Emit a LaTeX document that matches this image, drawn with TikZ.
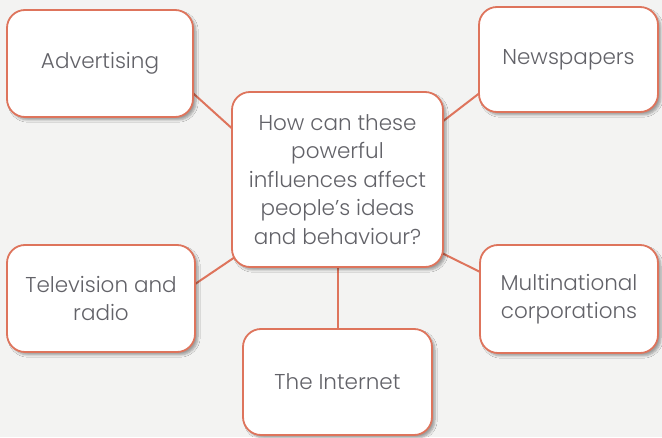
\documentclass[tikz,border=0pt]{standalone}
\usepackage{fontspec}
\IfFontExistsTF{Poppins Light}{\setmainfont{Poppins Light}}{\setmainfont{Poppins}}
\usetikzlibrary{backgrounds,shadows.blur}
\definecolor{mmLine}{RGB}{222,116,92}
\definecolor{mmText}{RGB}{98,98,104}
\definecolor{mmPaper}{RGB}{243,243,242}

\begin{document}
\begin{tikzpicture}[
			x=1pt,y=1pt,
			topic/.style={
				draw=mmLine,
				fill=white,
				line width=1.8pt,
				rounded corners=18pt,
				align=center,
				text=mmText,
				font=\fontsize{21.5}{28.5}\selectfont,
				blur shadow={shadow xshift=3pt,shadow yshift=-3pt,shadow blur steps=6,shadow opacity=35}
			},
			link/.style={
				draw=mmLine,
				line width=2pt,
				shorten <=-6pt,
				shorten >=-6pt
			}
			]
			\useasboundingbox (0,0) rectangle (662,437);
			\node[topic,minimum width=211pt,minimum height=175pt](q) at (337.5,257.5)
				{How can these\\powerful\\influences affect\\people’s ideas\\and behaviour?};
			\node[topic,minimum width=186pt,minimum height=107pt](adv) at (100,373.5){Advertising};
			\node[topic,minimum width=179pt,minimum height=105pt](news) at (568.5,377.5){Newspapers};
			\node[topic,minimum width=188pt,minimum height=107pt](tv) at (101,138.5){Television and\\radio};
			\node[topic,minimum width=178pt,minimum height=108pt](multi) at (569,138){Multinational\\corporations};
			\node[topic,minimum width=189pt,minimum height=106pt](net) at (337.5,55){The Internet};
			\begin{scope}[on background layer]
				\fill[mmPaper](0,0) rectangle (662,437);
				\draw[link](adv.-18.7)--(q.154.9);
				\draw[link](news.201.9)--(q.29.8);
				\draw[link](tv.9.2)--(q.217.4);
				\draw[link](multi.163.1)--(q.-35.1);
				\draw[link](net.north)--(q.south);
			\end{scope}
		\end{tikzpicture}
\end{document}
